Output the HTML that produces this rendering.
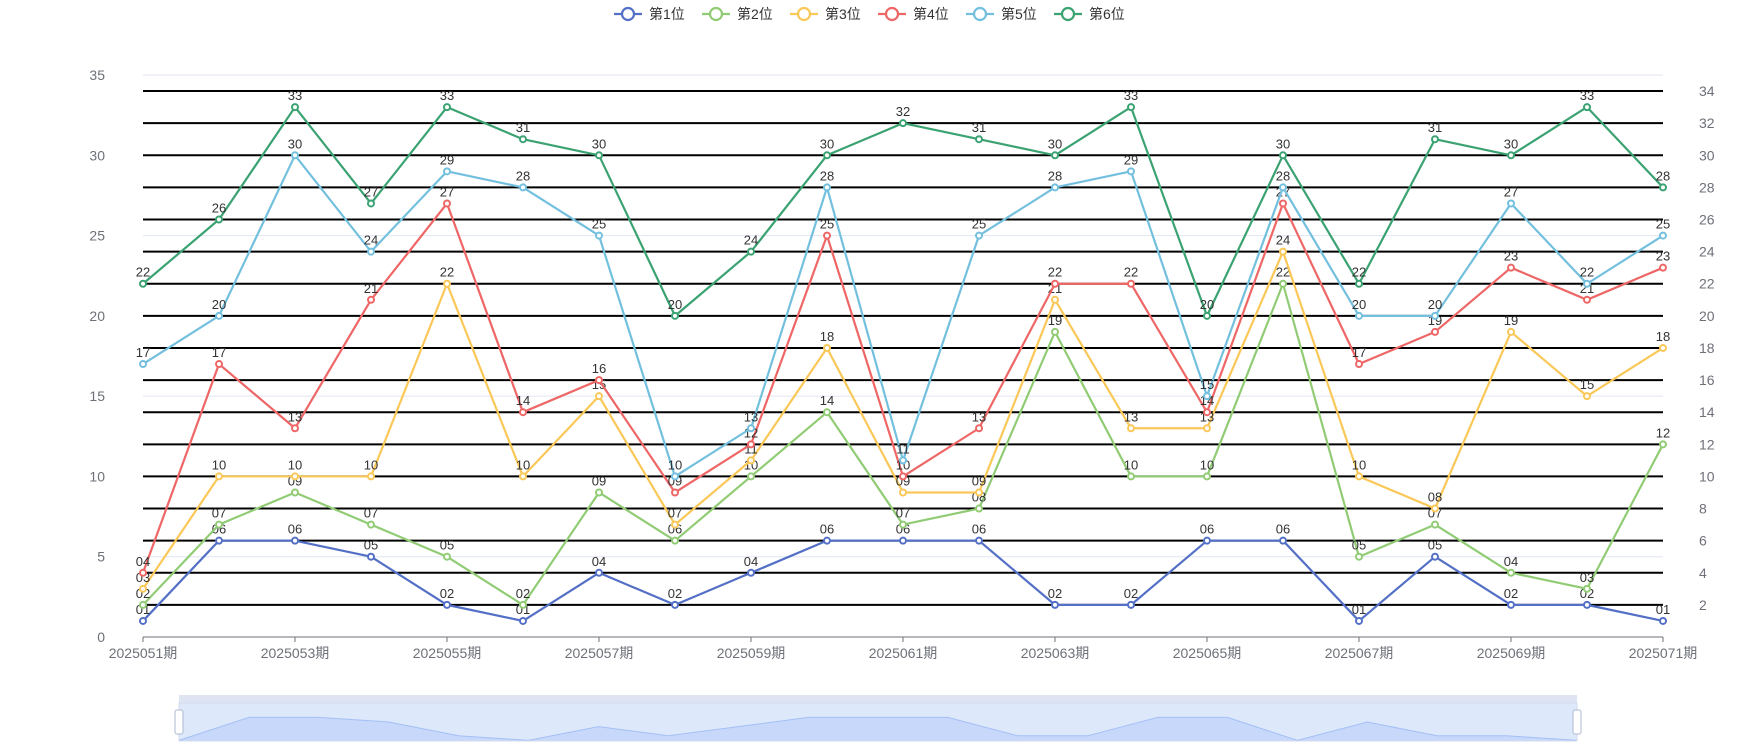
<!DOCTYPE html>
<html><head><meta charset="utf-8">
<style>
html,body{margin:0;padding:0;background:#fff;}
svg{display:block;font-family:"Liberation Sans","Noto Sans CJK SC",sans-serif;}
</style></head>
<body>
<svg id="chart" width="1750" height="750" viewBox="0 0 1750 750" xmlns="http://www.w3.org/2000/svg">
<g id="grid"></g>
<g id="refs"></g>
<g id="axes"></g>
<g id="series"></g>
<g id="legend"></g>
<g id="zoom"></g>
</svg>
<script>
const categories = ["2025051期","2025052期","2025053期","2025054期","2025055期","2025056期","2025057期","2025058期","2025059期","2025060期","2025061期","2025062期","2025063期","2025064期","2025065期","2025066期","2025067期","2025068期","2025069期","2025070期","2025071期"];
const seriesNames = ["第1位","第2位","第3位","第4位","第5位","第6位"];
const pos1 = [1,6,6,5,2,1,4,2,4,6,6,6,2,2,6,6,1,5,2,2,1];
const pos2 = [2,7,9,7,5,2,9,6,10,14,7,8,19,10,10,22,5,7,4,3,12];
const pos3 = [3,10,10,10,22,10,15,7,11,18,9,9,21,13,13,24,10,8,19,15,18];
const pos4 = [4,17,13,21,27,14,16,9,12,25,10,13,22,22,14,27,17,19,23,21,23];
const pos5 = [17,20,30,24,29,28,25,10,13,28,11,25,28,29,15,28,20,20,27,22,25];
const pos6 = [22,26,33,27,33,31,30,20,24,30,32,31,30,33,20,30,22,31,30,33,28];
const leftTicks = [0,5,10,15,20,25,30,35];
const rightTicks = [2,4,6,8,10,12,14,16,18,20,22,24,26,28,30,32,34];
const colors = ["#5470c6","#91cc75","#fac858","#ee6666","#73c0de","#3ba272"];
const allSeries = [pos1,pos2,pos3,pos4,pos5,pos6];

const X0=143, X1=1663, Y0=637, Y1=75, YMAX=35;
const xs = i => X0 + (X1-X0)*i/(categories.length-1);
const ys = v => Y0 - (Y0-Y1)*v/YMAX;
const NS="http://www.w3.org/2000/svg";
function mk(tag, attrs, parent){const e=document.createElementNS(NS,tag);for(const k in attrs)e.setAttribute(k,attrs[k]);parent.appendChild(e);return e;}
const pad = v => (v<10?"0":"")+v;

const gridG=document.getElementById('grid');
leftTicks.forEach(t=>{
  if(t===0) return;
  const l=mk('line',{x1:X0,x2:X1,y1:ys(t),y2:ys(t),stroke:'#e0e6f1','stroke-width':1},gridG);
  
  
});
const axesG=document.getElementById('axes');
leftTicks.forEach(t=>{
  const tx=mk('text',{x:X0-38,y:ys(t)+5,'text-anchor':'end','font-size':14,fill:'#6e7079'},axesG);
  tx.textContent=t;
  
  
});
const refsG=document.getElementById('refs');
rightTicks.forEach(t=>{
  const l=mk('line',{x1:X0,x2:X1,y1:ys(t),y2:ys(t),stroke:'#000','stroke-width':2},refsG);
  
  
  const tx=mk('text',{x:X1+36,y:ys(t)+5,'text-anchor':'start','font-size':14,fill:'#6e7079'},axesG);
  tx.textContent=t;
  
  
});
const axLine=mk('line',{x1:X0,x2:X1,y1:Y0,y2:Y0,stroke:'#6e7079','stroke-width':1},axesG);


categories.forEach((c,i)=>{
  if(i%2) return;
  const tk=mk('line',{x1:xs(i),x2:xs(i),y1:Y0,y2:Y0+5,stroke:'#6e7079'},axesG);
  
  
  const tx=mk('text',{x:xs(i),y:Y0+21,'text-anchor':'middle','font-size':14,fill:'#6e7079'},axesG);
  tx.textContent=c;
  
  
});

const seriesG=document.getElementById('series');
allSeries.forEach((data,si)=>{
  const g=mk('g',{},seriesG);
  
  
  const pts=data.map((v,i)=>xs(i)+','+ys(v)).join(' ');
  const pl=mk('polyline',{points:pts,fill:'none',stroke:colors[si],'stroke-width':2.2,'stroke-linejoin':'round'},g);
  
  
  data.forEach((v,i)=>{
    const c=mk('circle',{cx:xs(i),cy:ys(v),r:3,fill:'#fff',stroke:colors[si],'stroke-width':2},g);
    
    
    const t=mk('text',{x:xs(i),y:ys(v)-7,'text-anchor':'middle','font-size':13,fill:'#333'},g);
    t.textContent=pad(v);
    
    
  });
});

const legendG=document.getElementById('legend');
seriesNames.forEach((n,i)=>{
  const x0=614+i*88;
  const g=mk('g',{},legendG);
  
  
  mk('line',{x1:x0,x2:x0+28,y1:14,y2:14,stroke:colors[i],'stroke-width':2.2},g);
  mk('circle',{cx:x0+14,cy:14,r:6,fill:'#fff',stroke:colors[i],'stroke-width':2.2},g);
  const t=mk('text',{x:x0+35,y:19,'font-size':14,fill:'#333'},g);
  t.textContent=n;
});

const zoomG=document.getElementById('zoom');
const ZX0=179, ZX1=1577, ZT=695, ZB=741;
const zbg=mk('rect',{x:ZX0,y:ZT,width:ZX1-ZX0,height:ZB-ZT,fill:'#eef2fc'},zoomG);


const topBar=mk('rect',{x:ZX0,y:ZT,width:ZX1-ZX0,height:8,fill:'#dfe4f2'},zoomG);


const zx=i=>ZX0+(ZX1-ZX0)*i/(categories.length-1);
const zy=v=>745-v*4.6;
const dPath='M'+ZX0+','+ZB+' '+pos1.map((v,i)=>'L'+zx(i)+','+zy(v)).join(' ')+' L'+ZX1+','+ZB+' Z';
const shadowArea=mk('path',{d:dPath,fill:'#d3e0fb',stroke:'none'},zoomG);


const shadowLine=mk('polyline',{points:pos1.map((v,i)=>zx(i)+','+zy(v)).join(' '),fill:'none',stroke:'#a9c3f5','stroke-width':1},zoomG);


const zwin=mk('rect',{x:ZX0,y:ZT+8,width:ZX1-ZX0,height:ZB-ZT-8,fill:'rgba(135,175,245,0.15)',stroke:'#d2dbee'},zoomG);


[ZX0,ZX1].forEach((x,k)=>{
  const h=mk('rect',{x:x-4,y:710,width:8,height:24,rx:2,fill:'#fff',stroke:'#acb8d1'},zoomG);
  
  
});
</script>
</body></html>
